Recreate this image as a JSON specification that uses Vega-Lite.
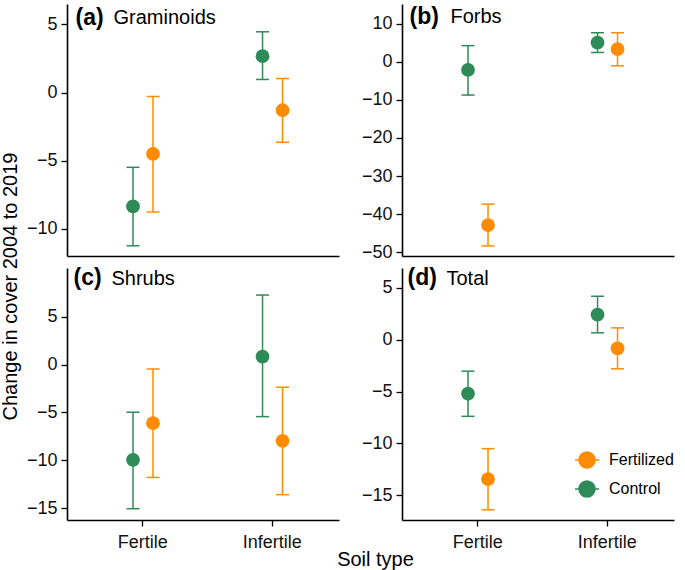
{
  "$schema": "https://vega.github.io/schema/vega-lite/v6.json",
  "padding": {"left": 1, "top": 4, "right": 5, "bottom": 4},
  "title": {"text": "Change in cover 2004 to 2019", "orient": "left", "anchor": "middle", "fontSize": 20, "fontWeight": "normal", "offset": 5, "color": "black"},
  "datasets": {
    "d": [
      {"panel": "Graminoids", "soil": "Fertile", "treatment": "Control", "mean": -8.36, "low": -11.25, "high": -5.49},
      {"panel": "Graminoids", "soil": "Fertile", "treatment": "Fertilized", "mean": -4.51, "low": -8.77, "high": -0.29},
      {"panel": "Graminoids", "soil": "Infertile", "treatment": "Control", "mean": 2.67, "low": 0.96, "high": 4.46},
      {"panel": "Graminoids", "soil": "Infertile", "treatment": "Fertilized", "mean": -1.3, "low": -3.65, "high": 1.03},
      {"panel": "Forbs", "soil": "Fertile", "treatment": "Control", "mean": -2.1, "low": -8.7, "high": 4.3},
      {"panel": "Forbs", "soil": "Fertile", "treatment": "Fertilized", "mean": -42.9, "low": -48.4, "high": -37.4},
      {"panel": "Forbs", "soil": "Infertile", "treatment": "Control", "mean": 5.1, "low": 2.5, "high": 7.7},
      {"panel": "Forbs", "soil": "Infertile", "treatment": "Fertilized", "mean": 3.4, "low": -1.0, "high": 7.7},
      {"panel": "Shrubs", "soil": "Fertile", "treatment": "Control", "mean": -9.96, "low": -15.07, "high": -4.98},
      {"panel": "Shrubs", "soil": "Fertile", "treatment": "Fertilized", "mean": -6.13, "low": -11.8, "high": -0.46},
      {"panel": "Shrubs", "soil": "Infertile", "treatment": "Control", "mean": 0.83, "low": -5.44, "high": 7.27},
      {"panel": "Shrubs", "soil": "Infertile", "treatment": "Fertilized", "mean": -7.97, "low": -13.6, "high": -2.37},
      {"panel": "Total", "soil": "Fertile", "treatment": "Control", "mean": -5.21, "low": -7.39, "high": -3.03},
      {"panel": "Total", "soil": "Fertile", "treatment": "Fertilized", "mean": -13.46, "low": -16.42, "high": -10.51},
      {"panel": "Total", "soil": "Infertile", "treatment": "Control", "mean": 2.43, "low": 0.67, "high": 4.2},
      {"panel": "Total", "soil": "Infertile", "treatment": "Fertilized", "mean": -0.84, "low": -2.8, "high": 1.15}
    ]
  },
  "columns": 2,
  "spacing": {"row": 12, "column": 63},
  "bounds": "flush",
  "resolve": {
    "scale": {"x": "independent", "y": "independent", "color": "independent", "xOffset": "independent"},
    "legend": {"color": "independent"}
  },
  "concat": [
    {
      "width": 272, "height": 252,
      "data": {"name": "d"},
      "transform": [{"filter": "datum.panel === 'Graminoids'"}],
      "resolve": {"axis": {"y": "independent"}},
      "encoding": {
        "x": {"field": "soil", "type": "nominal", "scale": {"paddingInner": 0, "paddingOuter": 0.05, "align": 0.85}, "axis": {"labels": false, "ticks": false, "title": null}},
        "xOffset": {"field": "treatment", "type": "nominal", "sort": ["Control", "Fertilized"], "scale": {"paddingInner": 0, "paddingOuter": 0, "range": [45, 85]}},
        "color": {"field": "treatment", "type": "nominal", "scale": {"domain": ["Fertilized", "Control"], "range": ["#FF8C00", "#2E8B57"]}, "legend": null}
      },
      "layer": [
        {"mark": {"type": "rule", "strokeWidth": 1.5}, "encoding": {
          "y": {"field": "low", "type": "quantitative", "scale": {"domain": [-12, 6.5], "nice": false, "zero": false}, "axis": {"values": [-10, -5, 0, 5], "title": "Graminoids", "titleAngle": 0, "titleAlign": "left", "titleBaseline": "alphabetic", "titleX": 46, "titleY": 19, "titleFontSize": 20}},
          "y2": {"field": "high"}}},
        {"mark": {"type": "tick", "size": 13, "thickness": 1.5, "opacity": 1}, "encoding": {
          "y": {"field": "low", "type": "quantitative", "scale": {"domain": [-12, 6.5], "nice": false, "zero": false}, "axis": null}}},
        {"mark": {"type": "tick", "size": 13, "thickness": 1.5, "opacity": 1}, "encoding": {
          "y": {"field": "high", "type": "quantitative", "scale": {"domain": [-12, 6.5], "nice": false, "zero": false}, "axis": null}}},
        {"mark": {"type": "point", "filled": true, "size": 190, "opacity": 1}, "encoding": {
          "y": {"field": "mean", "type": "quantitative", "scale": {"domain": [-12, 6.5], "nice": false, "zero": false}, "axis": {"orient": "right", "domain": false, "ticks": false, "labels": false, "title": "(a)", "titleAngle": 0, "titleAlign": "left", "titleBaseline": "alphabetic", "titleX": -264, "titleY": 20, "titleFontSize": 23, "titleFontWeight": "bold"}}}}
      ]
    },
    {
      "width": 272, "height": 252,
      "data": {"name": "d"},
      "transform": [{"filter": "datum.panel === 'Forbs'"}],
      "resolve": {"axis": {"y": "independent"}},
      "encoding": {
        "x": {"field": "soil", "type": "nominal", "scale": {"paddingInner": 0, "paddingOuter": 0.05, "align": 0.85}, "axis": {"labels": false, "ticks": false, "title": null}},
        "xOffset": {"field": "treatment", "type": "nominal", "sort": ["Control", "Fertilized"], "scale": {"paddingInner": 0, "paddingOuter": 0, "range": [45, 85]}},
        "color": {"field": "treatment", "type": "nominal", "scale": {"domain": ["Fertilized", "Control"], "range": ["#FF8C00", "#2E8B57"]}, "legend": null}
      },
      "layer": [
        {"mark": {"type": "rule", "strokeWidth": 1.5}, "encoding": {
          "y": {"field": "low", "type": "quantitative", "scale": {"domain": [-51.05, 15.26], "nice": false, "zero": false}, "axis": {"values": [-50, -40, -30, -20, -10, 0, 10], "title": "Forbs", "titleAngle": 0, "titleAlign": "left", "titleBaseline": "alphabetic", "titleX": 48, "titleY": 18, "titleFontSize": 20}},
          "y2": {"field": "high"}}},
        {"mark": {"type": "tick", "size": 13, "thickness": 1.5, "opacity": 1}, "encoding": {
          "y": {"field": "low", "type": "quantitative", "scale": {"domain": [-51.05, 15.26], "nice": false, "zero": false}, "axis": null}}},
        {"mark": {"type": "tick", "size": 13, "thickness": 1.5, "opacity": 1}, "encoding": {
          "y": {"field": "high", "type": "quantitative", "scale": {"domain": [-51.05, 15.26], "nice": false, "zero": false}, "axis": null}}},
        {"mark": {"type": "point", "filled": true, "size": 190, "opacity": 1}, "encoding": {
          "y": {"field": "mean", "type": "quantitative", "scale": {"domain": [-51.05, 15.26], "nice": false, "zero": false}, "axis": {"orient": "right", "domain": false, "ticks": false, "labels": false, "title": "(b)", "titleAngle": 0, "titleAlign": "left", "titleBaseline": "alphabetic", "titleX": -265, "titleY": 19, "titleFontSize": 23, "titleFontWeight": "bold"}}}}
      ]
    },
    {
      "width": 272, "height": 252,
      "data": {"name": "d"},
      "transform": [{"filter": "datum.panel === 'Shrubs'"}],
      "resolve": {"axis": {"y": "independent"}},
      "encoding": {
        "x": {"field": "soil", "type": "nominal", "scale": {"paddingInner": 0, "paddingOuter": 0.05, "align": 0.85}, "axis": {"labelAngle": 0, "labelPadding": 7, "title": "Soil type", "titleX": 308, "titleY": 45, "titleAlign": "center", "titleBaseline": "alphabetic", "titleFontSize": 20}},
        "xOffset": {"field": "treatment", "type": "nominal", "sort": ["Control", "Fertilized"], "scale": {"paddingInner": 0, "paddingOuter": 0, "range": [45, 85]}},
        "color": {"field": "treatment", "type": "nominal", "scale": {"domain": ["Fertilized", "Control"], "range": ["#FF8C00", "#2E8B57"]}, "legend": null}
      },
      "layer": [
        {"mark": {"type": "rule", "strokeWidth": 1.5}, "encoding": {
          "y": {"field": "low", "type": "quantitative", "scale": {"domain": [-16.25, 10.1], "nice": false, "zero": false}, "axis": {"values": [-15, -10, -5, 0, 5], "title": "Shrubs", "titleAngle": 0, "titleAlign": "left", "titleBaseline": "alphabetic", "titleX": 44, "titleY": 16, "titleFontSize": 20}},
          "y2": {"field": "high"}}},
        {"mark": {"type": "tick", "size": 13, "thickness": 1.5, "opacity": 1}, "encoding": {
          "y": {"field": "low", "type": "quantitative", "scale": {"domain": [-16.25, 10.1], "nice": false, "zero": false}, "axis": null}}},
        {"mark": {"type": "tick", "size": 13, "thickness": 1.5, "opacity": 1}, "encoding": {
          "y": {"field": "high", "type": "quantitative", "scale": {"domain": [-16.25, 10.1], "nice": false, "zero": false}, "axis": null}}},
        {"mark": {"type": "point", "filled": true, "size": 190, "opacity": 1}, "encoding": {
          "y": {"field": "mean", "type": "quantitative", "scale": {"domain": [-16.25, 10.1], "nice": false, "zero": false}, "axis": {"orient": "right", "domain": false, "ticks": false, "labels": false, "title": "(c)", "titleAngle": 0, "titleAlign": "left", "titleBaseline": "alphabetic", "titleX": -266, "titleY": 16, "titleFontSize": 23, "titleFontWeight": "bold"}}}}
      ]
    },
    {
      "width": 272, "height": 252,
      "data": {"name": "d"},
      "transform": [{"filter": "datum.panel === 'Total'"}],
      "resolve": {"axis": {"y": "independent"}},
      "encoding": {
        "x": {"field": "soil", "type": "nominal", "scale": {"paddingInner": 0, "paddingOuter": 0.05, "align": 0.85}, "axis": {"labelAngle": 0, "labelPadding": 7, "title": null}},
        "xOffset": {"field": "treatment", "type": "nominal", "sort": ["Control", "Fertilized"], "scale": {"paddingInner": 0, "paddingOuter": 0, "range": [45, 85]}},
        "color": {"field": "treatment", "type": "nominal", "scale": {"domain": ["Fertilized", "Control"], "range": ["#FF8C00", "#2E8B57"]},
          "legend": {"title": null, "orient": "none", "legendX": 176, "legendY": 183, "symbolType": "M-1.5,0H1.5M1,0A1,1,0,1,1,-1,0A1,1,0,1,1,1,0Z", "symbolSize": 256, "symbolStrokeWidth": 1.5, "symbolOpacity": 1, "labelFontSize": 16, "labelOffset": 13, "rowPadding": 7, "labelColor": "black"}}
      },
      "layer": [
        {"mark": {"type": "rule", "strokeWidth": 1.5}, "encoding": {
          "y": {"field": "low", "type": "quantitative", "scale": {"domain": [-17.4, 6.93], "nice": false, "zero": false}, "axis": {"values": [-15, -10, -5, 0, 5], "title": "Total", "titleAngle": 0, "titleAlign": "left", "titleBaseline": "alphabetic", "titleX": 44, "titleY": 16, "titleFontSize": 20}},
          "y2": {"field": "high"}}},
        {"mark": {"type": "tick", "size": 13, "thickness": 1.5, "opacity": 1}, "encoding": {
          "y": {"field": "low", "type": "quantitative", "scale": {"domain": [-17.4, 6.93], "nice": false, "zero": false}, "axis": null}}},
        {"mark": {"type": "tick", "size": 13, "thickness": 1.5, "opacity": 1}, "encoding": {
          "y": {"field": "high", "type": "quantitative", "scale": {"domain": [-17.4, 6.93], "nice": false, "zero": false}, "axis": null}}},
        {"mark": {"type": "point", "filled": true, "size": 190, "opacity": 1}, "encoding": {
          "y": {"field": "mean", "type": "quantitative", "scale": {"domain": [-17.4, 6.93], "nice": false, "zero": false}, "axis": {"orient": "right", "domain": false, "ticks": false, "labels": false, "title": "(d)", "titleAngle": 0, "titleAlign": "left", "titleBaseline": "alphabetic", "titleX": -267, "titleY": 16, "titleFontSize": 23, "titleFontWeight": "bold"}}}}
      ]
    }
  ],
  "config": {
    "font": "Liberation Sans",
    "view": {"stroke": null},
    "axis": {"grid": false, "domainColor": "black", "domainWidth": 1.6, "tickColor": "black", "tickWidth": 1.3, "tickSize": 6, "labelFontSize": 18, "labelColor": "#111111", "labelFont": "Liberation Sans", "labelPadding": 4, "labelExpr": "replace(datum.label, '-', '\u2212')", "titleFont": "Liberation Sans", "titleColor": "black", "titleFontWeight": "normal"},
    "title": {"font": "Liberation Sans", "color": "black"},
    "legend": {"labelFont": "Liberation Sans"}
  }
}
